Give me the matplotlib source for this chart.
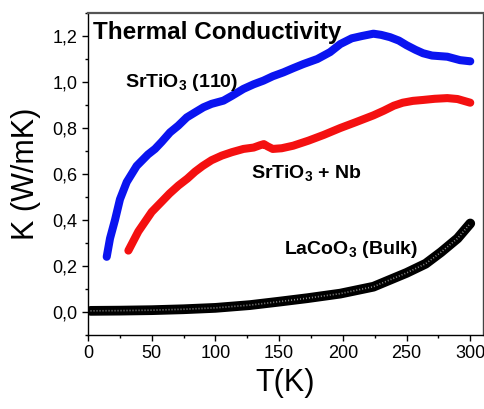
import matplotlib
matplotlib.use("Agg")
import matplotlib.pyplot as plt
from matplotlib.ticker import MultipleLocator, FuncFormatter

plt.rcParams['font.family'] = ['Liberation Sans', 'DejaVu Sans']
plt.rcParams['mathtext.fontset'] = 'custom'
plt.rcParams['mathtext.rm'] = 'Liberation Sans:bold'
plt.rcParams['mathtext.it'] = 'Liberation Sans:bold'
plt.rcParams['mathtext.bf'] = 'Liberation Sans:bold'

# SrTiO3 (110)
T_sto = [14.7, 17.3, 21.2, 25.1, 30.4, 38.2, 47.1, 52.6, 57.9, 64.4, 70.8, 77.5, 84, 90.6, 97,
         106.3, 113, 122, 130, 137.7, 145, 153.4, 161, 169, 180, 190, 198, 207, 215, 224, 230,
         237, 244, 250, 257, 263, 270, 282, 292, 300]
K_sto = [0.24, 0.32, 0.40, 0.49, 0.565, 0.635, 0.685, 0.709, 0.74, 0.781, 0.81, 0.846, 0.868,
         0.89, 0.905, 0.919, 0.94, 0.97, 0.99, 1.006, 1.025, 1.042, 1.06, 1.078, 1.10, 1.13,
         1.165, 1.19, 1.20, 1.21, 1.205, 1.195, 1.18, 1.16, 1.14, 1.125, 1.115, 1.11, 1.095, 1.09]

# SrTiO3 + Nb
T_nb = [31.7, 39.5, 50, 57.9, 64, 71, 78, 84, 90, 97, 105, 113, 122, 130, 135, 138, 141, 145,
        152, 161, 173, 185, 198, 210, 224, 232, 240, 247, 255, 263, 272, 282, 290, 300]
K_nb = [0.267, 0.35, 0.435, 0.48, 0.515, 0.55, 0.58, 0.61, 0.635, 0.66, 0.68, 0.695, 0.709,
        0.715, 0.725, 0.73, 0.72, 0.709, 0.712, 0.723, 0.745, 0.77, 0.80, 0.825, 0.855, 0.875,
        0.897, 0.91, 0.918, 0.922, 0.927, 0.93, 0.926, 0.91]

# LaCoO3 (Bulk)
T_lco = [2, 25, 50, 75, 100, 127, 150, 172, 198, 224, 250, 265, 277, 290, 300]
K_lco = [0.005, 0.006, 0.008, 0.012, 0.018, 0.03, 0.045, 0.06, 0.08, 0.11, 0.17, 0.21,
         0.26, 0.32, 0.385]

x_ticks = [0, 50, 100, 150, 200, 250, 300]
y_ticks = [0.0, 0.2, 0.4, 0.6, 0.8, 1.0, 1.2]

fig = plt.figure(figsize=(4.85, 4.09), dpi=100)
ax = fig.add_axes([0.1814, 0.1809, 0.8145, 0.7873])

ax.plot(T_sto, K_sto, color='#0a14f0', lw=5.8, solid_capstyle='round', solid_joinstyle='round')
ax.plot(T_nb, K_nb, color='#f41010', lw=5.8, solid_capstyle='round', solid_joinstyle='round')
ax.plot(T_lco, K_lco, color='black', lw=7, solid_capstyle='round', solid_joinstyle='round')
ax.plot(T_lco, K_lco, color='#8a8a8a', lw=1.2, linestyle=(0, (0.6, 1.2)))

ax.set_xlim(0, 310)
ax.set_ylim(-0.1, 1.3)
ax.set_xticks(x_ticks)
ax.set_yticks(y_ticks)
ax.xaxis.set_minor_locator(MultipleLocator(25))
ax.yaxis.set_minor_locator(MultipleLocator(0.1))
ax.yaxis.set_major_formatter(FuncFormatter(lambda v, p: f"{v:.1f}".replace('.', ',')))
ax.xaxis.set_major_formatter(FuncFormatter(lambda v, p: f"{int(round(v))}"))
ax.tick_params(which='major', direction='out', length=4.5, width=1, labelsize=13, pad=3)
ax.tick_params(which='minor', direction='out', length=2.5, width=1)
ax.tick_params(top=False, right=False, which='both')

for s in ['left', 'bottom']:
    ax.spines[s].set_linewidth(1.0)
    ax.spines[s].set_color('black')
ax.spines['top'].set_color('#555555')
ax.spines['top'].set_linewidth(1.6)
ax.spines['right'].set_color('#444444')
ax.spines['right'].set_linewidth(1.0)

ax.set_xlabel('T(K)', fontsize=22, labelpad=4)
ax.set_ylabel('K (W/mK)', fontsize=22, labelpad=8)

ax.text(0.013, 0.975, 'Thermal Conductivity', transform=ax.transAxes, fontsize=17.5,
        fontweight='bold', ha='left', va='top')
ax.text(29, 1.0, 'SrTiO$_3$ (110)', fontsize=14, fontweight='bold', ha='left', va='center')
ax.text(128, 0.605, 'SrTiO$_3$ + Nb', fontsize=14, fontweight='bold', ha='left', va='center')
ax.text(154, 0.27, 'LaCoO$_3$ (Bulk)', fontsize=14, fontweight='bold', ha='left', va='center')

fig.savefig('out.png', dpi=100)
